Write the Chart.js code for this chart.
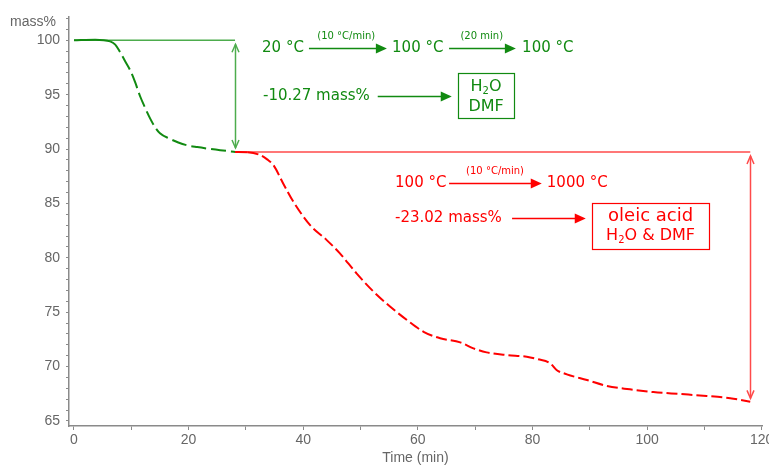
<!DOCTYPE html>
<html>
<head>
<meta charset="utf-8">
<script src="https://cdn.jsdelivr.net/npm/chart.js@4/dist/chart.umd.min.js"></script>
<style>
  html, body { margin: 0; padding: 0; background: #fff; }
  #wrap { width: 769px; height: 467px; position: relative; }
</style>
</head>
<body>
<div id="wrap"><canvas id="c" width="769" height="467"></canvas></div>
<script>
// ---- data ----
const greenTime = [0, 3.7, 6.3, 7.2, 8.0, 8.9, 9.8, 10.7, 11.5, 12.4, 13.3, 14.1, 15.0, 16.7, 18.2, 19.7, 21.5, 23.2, 25.5, 28.1];
const greenMass = [100, 100.05, 99.9, 99.6, 98.95, 98.1, 97.25, 96.1, 94.9, 93.8, 92.8, 92.05, 91.45, 90.95, 90.6, 90.35, 90.18, 90.05, 89.9, 89.73];

const redTime = [28.1, 30.3, 32.5, 33.7, 34.8, 36.5, 38.3, 41.2, 44.1, 46.4, 49.3, 52.3, 55.2, 58.1, 61.0, 63.9, 67.4, 69.7, 72.0, 75.5, 79.0, 81.0, 83.1, 84.2, 86.0, 89.5, 93.0, 97.0, 101.1, 105.8, 110.4, 114.5, 118.0];
const redMass = [89.73, 89.7, 89.44, 89.05, 88.52, 86.84, 85.15, 83.0, 81.63, 80.41, 78.57, 76.88, 75.5, 74.28, 73.2, 72.6, 72.23, 71.68, 71.31, 71.06, 70.91, 70.67, 70.3, 69.69, 69.29, 68.77, 68.22, 67.91, 67.66, 67.48, 67.3, 67.09, 66.77];

const yLabelTicks = [65, 70, 75, 80, 85, 90, 95, 100];
const xLabelTicks = [0, 20, 40, 60, 80, 100, 120];

const massStart = 100;
const massStep1 = 89.73;   // 100 - 10.27
const massEnd = 66.71;     // 89.73 - 23.02
const timeStep1 = 28.1;
const timeEnd = 118.0;

const lossText1 = '-10.27 mass%';
const lossText2 = '-23.02 mass%';

// ---- styles ----
const GREEN = '#118a11';
const GREEN_LINE = '#4dac4d';
const RED = '#ff0000';
const RED_LINE = '#ff4a4a';
const AXIS = '#8a8a8a';
const TXT = '#666666';
const ANN_FONT = "'DejaVu Sans', Verdana, sans-serif";

function pts(t, m) { return t.map((x, i) => ({ x: x, y: m[i] })); }

const annotations = {
  id: 'annotations',
  beforeDatasetsDraw(chart) {
    const xs = chart.scales.x, ys = chart.scales.y, ctx = chart.ctx;
    const X = v => xs.getPixelForValue(v), Y = v => ys.getPixelForValue(v);
    ctx.save();
    ctx.lineWidth = 1.5;
    ctx.strokeStyle = GREEN_LINE;
    ctx.beginPath(); ctx.moveTo(X(0), Y(massStart)); ctx.lineTo(X(timeStep1), Y(massStart)); ctx.stroke();
    ctx.strokeStyle = RED_LINE;
    ctx.beginPath(); ctx.moveTo(X(timeStep1), Y(massStep1)); ctx.lineTo(X(timeEnd), Y(massStep1)); ctx.stroke();
    ctx.restore();
  },
  afterDatasetsDraw(chart) {
    const xs = chart.scales.x, ys = chart.scales.y, ctx = chart.ctx;
    const X = v => xs.getPixelForValue(v), Y = v => ys.getPixelForValue(v);
    ctx.save();

    function vArrow(t, v1, v2, color) {
      const x = Math.round(X(t)) + 0.5, y1 = Y(v1) + 4, y2 = Y(v2) - 4;
      ctx.strokeStyle = color; ctx.lineWidth = 1.5;
      ctx.beginPath(); ctx.moveTo(x, y1); ctx.lineTo(x, y2); ctx.stroke();
      ctx.beginPath();
      ctx.moveTo(x - 3.5, y1 + 8); ctx.lineTo(x, y1); ctx.lineTo(x + 3.5, y1 + 8);
      ctx.moveTo(x - 3.5, y2 - 8); ctx.lineTo(x, y2); ctx.lineTo(x + 3.5, y2 - 8);
      ctx.stroke();
    }
    function hArrow(t1, t2, v, color) {
      const x1 = X(t1), x2 = X(t2), y = Math.round(Y(v)) + 0.5;
      ctx.strokeStyle = color; ctx.fillStyle = color; ctx.lineWidth = 1.5;
      ctx.beginPath(); ctx.moveTo(x1, y); ctx.lineTo(x2 - 8, y); ctx.stroke();
      ctx.beginPath(); ctx.moveTo(x2, y); ctx.lineTo(x2 - 11, y - 5); ctx.lineTo(x2 - 11, y + 5); ctx.closePath(); ctx.fill();
    }
    function text(str, t, v, size, color, align) {
      ctx.font = size + 'px ' + ANN_FONT;
      ctx.fillStyle = color; ctx.textAlign = align || 'left'; ctx.textBaseline = 'middle';
      ctx.fillText(str, X(t), Y(v));
    }
    function rich(parts, t, v, color) {
      // parts: [text, size, dy]
      let w = 0;
      parts.forEach(p => { ctx.font = p[1] + 'px ' + ANN_FONT; w += ctx.measureText(p[0]).width; });
      let x = X(t) - w / 2; const y = Y(v);
      ctx.fillStyle = color; ctx.textAlign = 'left'; ctx.textBaseline = 'middle';
      parts.forEach(p => { ctx.font = p[1] + 'px ' + ANN_FONT; ctx.fillText(p[0], x, y + p[2]); x += ctx.measureText(p[0]).width; });
    }
    function box(t1, t2, v1, v2, color) {
      ctx.strokeStyle = color; ctx.lineWidth = 1.2;
      const x1 = Math.round(X(t1)) + 0.5, x2 = Math.round(X(t2)) + 0.5;
      const y1 = Math.round(Y(v1)) + 0.5, y2 = Math.round(Y(v2)) + 0.5;
      ctx.strokeRect(x1, y1, x2 - x1, y2 - y1);
    }

    // step arrows
    vArrow(timeStep1, massStart, massStep1, GREEN_LINE);
    vArrow(timeEnd, massStep1, massEnd, RED_LINE);

    // green annotations
    text('20 °C', 32.81, 99.29, 15, GREEN);
    hArrow(41.0, 54.6, 99.31, GREEN);
    text('(10 °C/min)', 47.5, 100.37, 10, GREEN, 'center');
    text('100 °C', 55.5, 99.29, 15, GREEN);
    hArrow(65.45, 77.1, 99.31, GREEN);
    text('(20 min)', 71.15, 100.37, 10, GREEN, 'center');
    text('100 °C', 78.19, 99.29, 15, GREEN);

    text(lossText1, 32.98, 94.86, 15, GREEN);
    hArrow(53.0, 65.92, 94.86, GREEN);
    box(67.02, 76.79, 96.97, 92.83, GREEN);
    rich([['H', 16, 0], ['2', 10, 4], ['O', 16, 0]], 71.9, 95.71, GREEN);
    text('DMF', 71.9, 93.85, 16, GREEN, 'center');

    // red annotations
    text('100 °C', 56.02, 86.89, 15, RED);
    hArrow(65.45, 81.62, 86.89, RED);
    text('(10 °C/min)', 73.47, 87.9, 10, RED, 'center');
    text('1000 °C', 82.5, 86.89, 15, RED);

    text(lossText2, 56.02, 83.65, 15, RED);
    hArrow(76.44, 89.3, 83.65, RED);
    box(90.4, 110.82, 85.05, 80.77, RED);
    text('oleic acid', 100.61, 83.77, 18, RED, 'center');
    rich([['H', 16, 0], ['2', 10, 4], ['O & DMF', 16, 0]], 100.61, 81.99, RED);

    // y axis unit label
    ctx.font = "14px 'Liberation Sans', Arial, sans-serif";
    ctx.fillStyle = TXT; ctx.textAlign = 'left'; ctx.textBaseline = 'middle';
    ctx.fillText('mass%', 10, Y(101.68));
    ctx.restore();
  }
};

const tickFont = { family: "'Liberation Sans', Arial, sans-serif", size: 14 };

new Chart(document.getElementById('c'), {
  type: 'line',
  data: {
    datasets: [
      {
        data: pts(greenTime, greenMass),
        borderColor: GREEN, borderWidth: 2, pointRadius: 0, fill: false,
        cubicInterpolationMode: 'monotone',
        segment: { borderDash: c => (c.p1.parsed.x <= 6.4 ? [] : [15, 5]) }
      },
      {
        data: pts(redTime, redMass),
        borderColor: RED, borderWidth: 2, pointRadius: 0, fill: false,
        cubicInterpolationMode: 'monotone',
        segment: { borderDash: c => (c.p1.parsed.x <= 30.3 ? [] : [11, 4]) }
      }
    ]
  },
  options: {
    responsive: false,
    animation: false,
    layout: { padding: { left: 0, right: 7, top: 17, bottom: 0 } },
    plugins: { legend: { display: false }, tooltip: { enabled: false } },
    scales: {
      x: {
        type: 'linear', min: -0.87, max: 120.05,
        afterBuildTicks: s => { const t = []; for (let v = 0; v <= 120; v += 10) t.push({ value: v }); s.ticks = t; },
        afterFit: s => { s.height = 41; s.paddingLeft = 0; s.paddingRight = 0; },
        ticks: {
          autoSkip: false, maxRotation: 0, padding: 2, color: TXT, font: tickFont,
          callback: v => (xLabelTicks.includes(v) ? String(v) : '')
        },
        grid: { drawOnChartArea: false, drawTicks: true, tickLength: 4, color: AXIS },
        border: { color: AXIS, width: 1.5 },
        title: { display: true, text: 'Time (min)', color: TXT, font: tickFont, padding: { top: 0, bottom: 0 } }
      },
      y: {
        type: 'linear', min: 64.54, max: 102.14,
        afterBuildTicks: s => { const t = []; for (let v = 65; v <= 102; v += 1) t.push({ value: v }); s.ticks = t; },
        afterFit: s => { s.width = 69; s.paddingTop = 0; s.paddingBottom = 0; },
        ticks: {
          autoSkip: false, padding: 6, color: TXT, font: tickFont,
          callback: v => (yLabelTicks.includes(v) ? String(v) : '')
        },
        grid: { drawOnChartArea: false, drawTicks: true, tickLength: 3, color: AXIS },
        border: { color: AXIS, width: 1.5 }
      }
    }
  },
  plugins: [annotations]
});
</script>
</body>
</html>
